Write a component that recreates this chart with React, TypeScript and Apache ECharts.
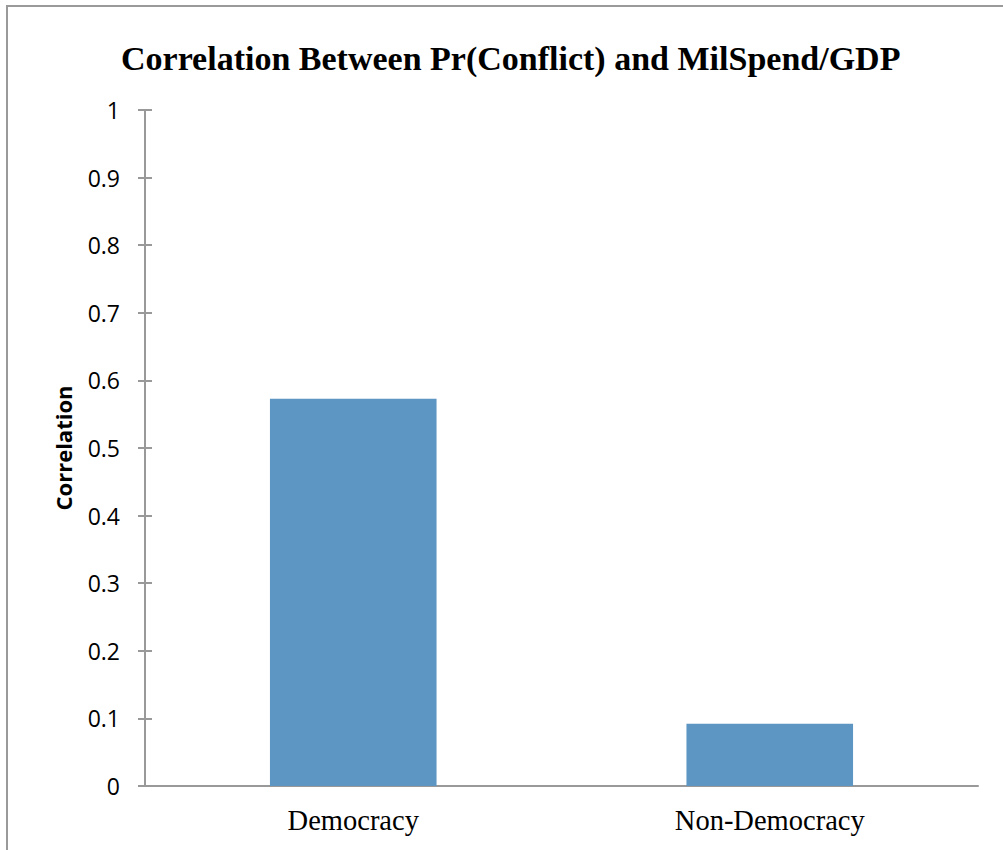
import React, { useEffect, useRef } from "react";
import * as echarts from "echarts";

const titleText = "Correlation Between Pr(Conflict) and MilSpend/GDP";
const categories = ["Democracy", "Non-Democracy"];
const correlations = [0.573, 0.092];
const axisName = "Correlation";

export default function App() {
  const ref = useRef<HTMLDivElement>(null);

  useEffect(() => {
    if (!ref.current) return;
    const chart = echarts.init(ref.current, null, { renderer: "svg" });
    const axisGray = "#999999";
    chart.setOption({
      animation: false,
      backgroundColor: "#ffffff",
      title: {
        text: titleText,
        left: 116,
        top: 36,
        textStyle: {
          fontFamily: "Liberation Serif",
          fontWeight: "bold",
          fontSize: 34,
          color: "#000000",
        },
      },
      graphic: [
        {
          type: "rect",
          shape: { x: 7, y: 6, width: 1100, height: 900 },
          style: { fill: "none", stroke: "#9a9a9a", lineWidth: 2 },
          silent: true,
        },
      ],
      grid: { left: 145, right: 25, top: 110, bottom: 64 },
      xAxis: {
        type: "category",
        data: categories,
        axisLine: { lineStyle: { color: axisGray, width: 2 } },
        axisTick: { show: false },
        axisLabel: {
          fontFamily: "Liberation Serif",
          fontSize: 28.5,
          color: "#000000",
          margin: 20,
        },
      },
      yAxis: [
        {
          type: "value",
          min: 0,
          max: 1,
          interval: 0.1,
          name: axisName,
          nameLocation: "middle",
          nameGap: 71,
          nameTextStyle: {
            fontFamily: "Open Sans",
            fontWeight: "bold",
            fontSize: 22,
            color: "#000000",
          },
          axisLine: { show: true, lineStyle: { color: axisGray, width: 2 } },
          axisTick: { show: true, length: 7, lineStyle: { color: axisGray, width: 2 } },
          splitLine: { show: false },
          axisLabel: {
            fontFamily: "Open Sans",
            fontSize: 23,
            color: "#000000",
            margin: 25,
          },
        },
        {
          type: "value",
          position: "left",
          min: 0,
          max: 1,
          interval: 0.1,
          axisLine: { show: false },
          axisTick: { show: true, inside: true, length: 7, lineStyle: { color: axisGray, width: 2 } },
          splitLine: { show: false },
          axisLabel: { show: false },
        },
      ],
      series: [
        {
          type: "bar",
          data: correlations,
          barWidth: "40%",
          itemStyle: { color: "#5d95c3" },
        },
      ],
    });
    return () => chart.dispose();
  }, []);

  return (
    <div
      ref={ref}
      style={{ position: "fixed", left: 0, top: 0, width: 1003, height: 850 }}
    />
  );
}
